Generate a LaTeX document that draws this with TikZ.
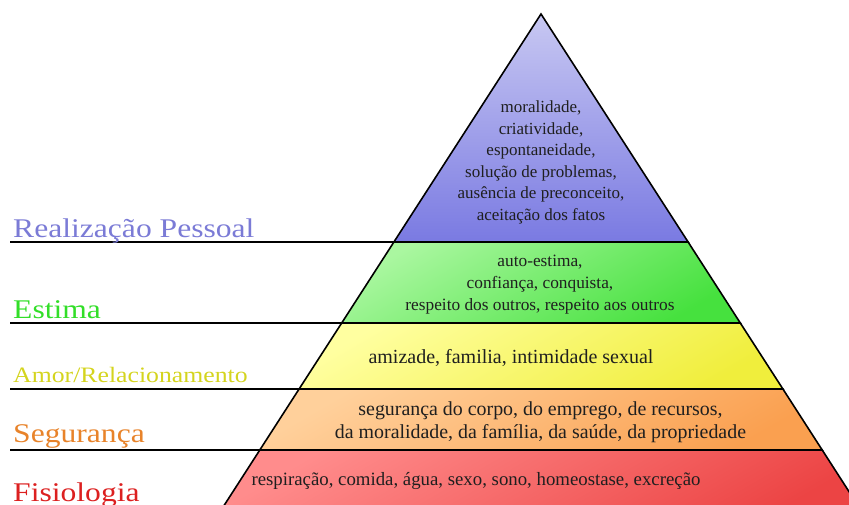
\documentclass[tikz,border=0pt]{standalone}
\usepackage{fontspec}
\setmainfont{Liberation Serif}
\usetikzlibrary{positioning}

\definecolor{corReal}{RGB}{123,123,214}
\definecolor{corEst}{RGB}{50,222,40}
\definecolor{corAmor}{RGB}{212,212,30}
\definecolor{corSeg}{RGB}{232,131,42}
\definecolor{corFis}{RGB}{220,32,32}

\tikzset{
	nivel/.style={draw=black, line width=1.6pt, line join=miter},
	rotulo/.style={anchor=base west, inner sep=0pt, xscale=1.17, font=\fontsize{27}{30}\selectfont},
	texto/.style={align=center, inner sep=0pt, text=black!88},
	linha/.style={line width=1.6pt},
}

\begin{document}
\begin{tikzpicture}[x=1pt, y=-1pt]
	\useasboundingbox (0,0) rectangle (849,505);
	\clip (0,0) rectangle (849,505);

	\coordinate (topo) at (541,14);
	\coordinate (e1) at (393.9,242);  \coordinate (d1) at (688.1,242);
	\coordinate (e2) at (341.7,323);  \coordinate (d2) at (740.3,323);
	\coordinate (e3) at (299.1,389);  \coordinate (d3) at (782.9,389);
	\coordinate (e4) at (259.8,450);  \coordinate (d4) at (822.2,450);
	\coordinate (e5) at (214.7,520);  \coordinate (d5) at (867.3,520);

	% faixas da piramide
	\draw[nivel, top color={rgb,255:red,200;green,200;blue,242}, middle color={rgb,255:red,232;green,232;blue,252}, bottom color={rgb,255:red,122;green,122;blue,226}] (topo) -- (d1) -- (e1) -- cycle;
	\draw[nivel, top color={rgb,255:red,170;green,247;blue,160}, bottom color={rgb,255:red,70;green,225;blue,62}, shading angle=30] (e1) -- (d1) -- (d2) -- (e2) -- cycle;
	\draw[nivel, top color={rgb,255:red,255;green,255;blue,160}, bottom color={rgb,255:red,240;green,238;blue,60}, shading angle=30] (e2) -- (d2) -- (d3) -- (e3) -- cycle;
	\draw[nivel, top color={rgb,255:red,255;green,208;blue,155}, bottom color={rgb,255:red,250;green,160;blue,80}, shading angle=30] (e3) -- (d3) -- (d4) -- (e4) -- cycle;
	\draw[nivel, top color={rgb,255:red,255;green,140;blue,140}, bottom color={rgb,255:red,236;green,68;blue,68}, shading angle=30] (e4) -- (d4) -- (d5) -- (e5) -- cycle;

	% linhas dos rotulos
	\coordinate (l1) at (10,242);
	\coordinate (l2) at (10,323);
	\coordinate (l3) at (10,389);
	\coordinate (l4) at (10,450);
	\draw[linha] (l1) -- (e1);
	\draw[linha] (l2) -- (e2);
	\draw[linha] (l3) -- (e3);
	\draw[linha] (l4) -- (e4);

	\node[rotulo, text=corReal] (real) at (13,238) {Realização Pessoal};
	\node[rotulo, text=corEst] (est) at (13,318) {Estima};
	\node[rotulo, text=corAmor, font=\fontsize{22}{25}\selectfont] (amor) at (13,382) {Amor/Relacionamento};
	\node[rotulo, text=corSeg] (seg) at (13,442) {Segurança};
	\node[rotulo, text=corFis] (fis) at (13,501.5) {Fisiologia};

	\node[texto, font=\fontsize{17}{21.6}\selectfont] (tReal) at (541,162.5) {moralidade,\\criatividade,\\espontaneidade,\\solução de problemas,\\ausência de preconceito,\\aceitação dos fatos};
	\node[texto, font=\fontsize{17.3}{22}\selectfont] (tEst) at (540,285) {auto-estima,\\confiança, conquista,\\respeito dos outros, respeito aos outros};
	\node[texto, font=\fontsize{20}{24}\selectfont] (tAmor) at (511,358) {amizade, familia, intimidade sexual};
	\node[texto, font=\fontsize{19.9}{22.6}\selectfont] (tSeg) at (540.5,422.2) {segurança do corpo, do emprego, de recursos,\\da moralidade, da família, da saúde, da propriedade};
	\node[texto, font=\fontsize{18.8}{22}\selectfont] (tFis) at (476,481) {respiração, comida, água, sexo, sono, homeostase, excreção};
\end{tikzpicture}
\end{document}
